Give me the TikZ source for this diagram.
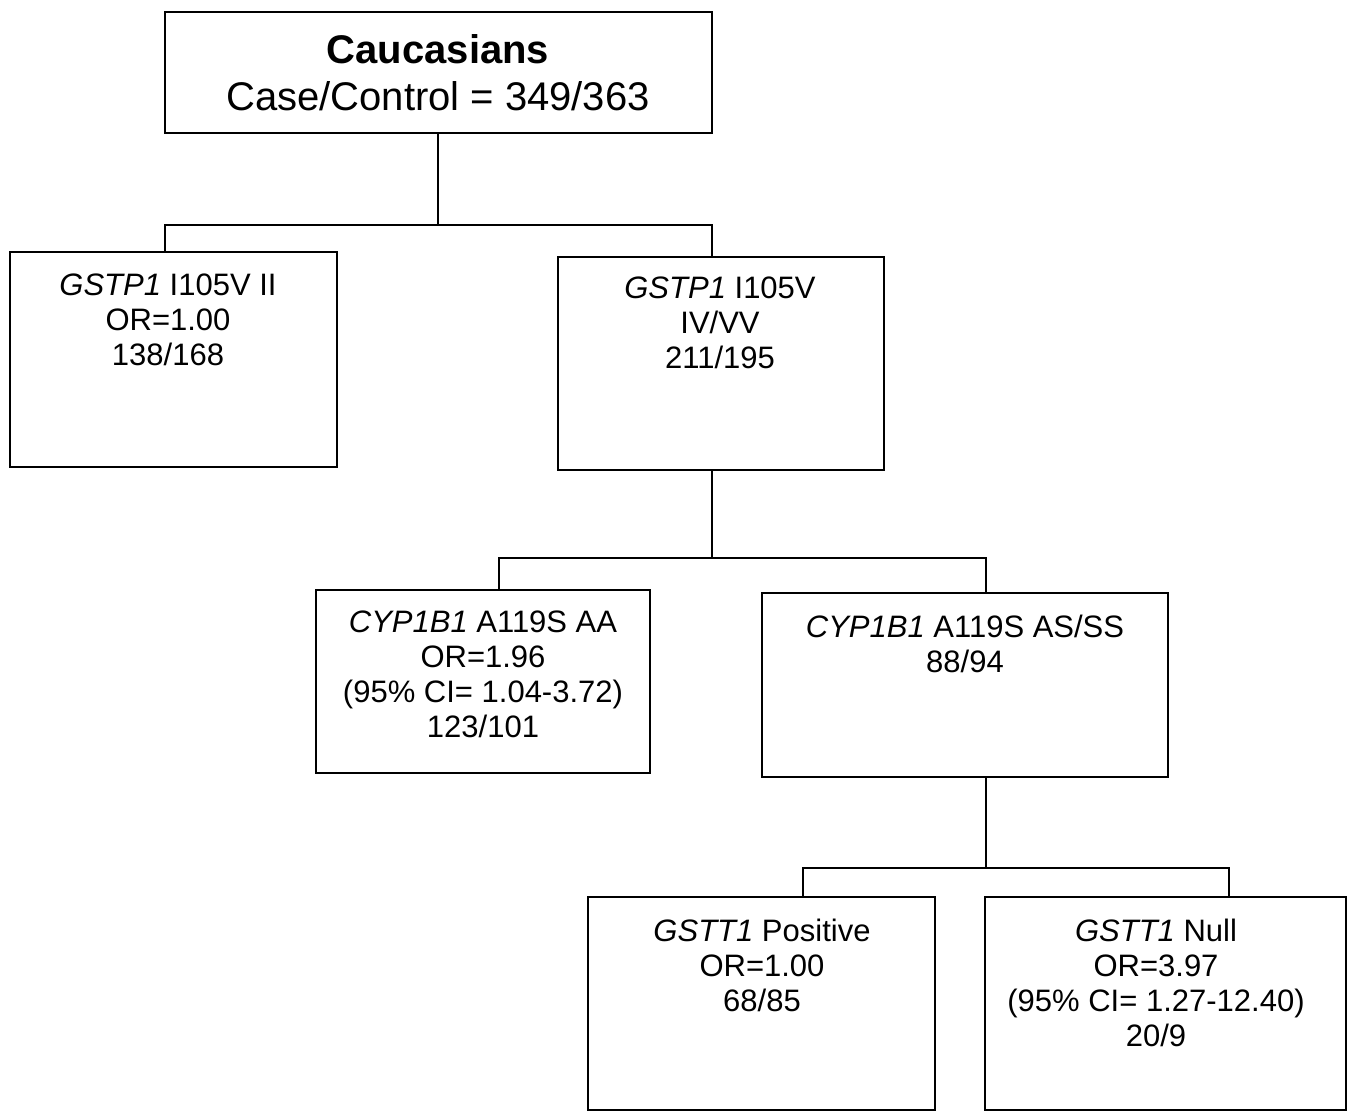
\documentclass[tikz,border=0pt]{standalone}
\usepackage{fontspec}
\setmainfont{Liberation Sans}
\begin{document}
\begin{tikzpicture}[x=1pt,y=-1pt,
  box/.style={draw,line width=2.6pt,rectangle,inner sep=0pt},
  txt/.style={anchor=north,align=center,inner sep=0pt,font=\fontsize{31}{35}\selectfont},
  conn/.style={line width=2.6pt}]
\useasboundingbox (0,0) rectangle (1356,1113);
% boxes
\node[box,minimum width=547pt,minimum height=121pt] (top) at (438.5,72.5) {};
\node[box,minimum width=327pt,minimum height=215pt] (A) at (173.5,359.5) {};
\node[box,minimum width=326pt,minimum height=213pt] (B) at (721,363.5) {};
\node[box,minimum width=334pt,minimum height=183pt] (C) at (483,681.5) {};
\node[box,minimum width=406pt,minimum height=184pt] (D) at (965,685) {};
\node[box,minimum width=347pt,minimum height=213pt] (E) at (761.5,1003.5) {};
\node[box,minimum width=361pt,minimum height=213pt] (F) at (1165.5,1003.5) {};
% texts
\node[txt,font=\fontsize{40}{47}\selectfont] (ttop) at (438,34) {\textbf{Caucasians}\\Case/Control = 349/363};
\node[txt] (tA) at (168,274) {\textit{GSTP1} I105V II\\OR=1.00\\138/168};
\node[txt] (tB) at (720,277) {\textit{GSTP1} I105V\\IV/VV\\211/195};
\node[txt] (tC) at (483,611) {\textit{CYP1B1} A119S AA\\OR=1.96\\(95\% CI= 1.04-3.72)\\123/101};
\node[txt] (tD) at (965,615) {\textit{CYP1B1} A119S AS/SS\\88/94};
\node[txt] (tE) at (762,919) {\textit{GSTT1} Positive\\OR=1.00\\68/85};
\node[txt] (tF) at (1156,919) {\textit{GSTT1} Null\\OR=3.97\\(95\% CI= 1.27-12.40)\\20/9};
% connectors
\coordinate (bar1L) at (165,225);
\coordinate (bar1R) at (712,225);
\coordinate (bar2L) at (499,558);
\coordinate (bar2R) at (986,558);
\coordinate (bar3L) at (803,868);
\coordinate (bar3R) at (1229,868);
\draw[conn] (top.south -| 438,0) -- (438,225);
\draw[conn] (A.north -| bar1L) -- (bar1L) -- (bar1R) -- (B.north -| bar1R);
\draw[conn] (B.south -| bar1R) -- (bar1R |- bar2L);
\draw[conn] (C.north -| bar2L) -- (bar2L) -- (bar2R) -- (D.north -| bar2R);
\draw[conn] (D.south -| bar2R) -- (bar2R |- bar3L);
\draw[conn] (E.north -| bar3L) -- (bar3L) -- (bar3R) -- (F.north -| bar3R);
\end{tikzpicture}
\end{document}
